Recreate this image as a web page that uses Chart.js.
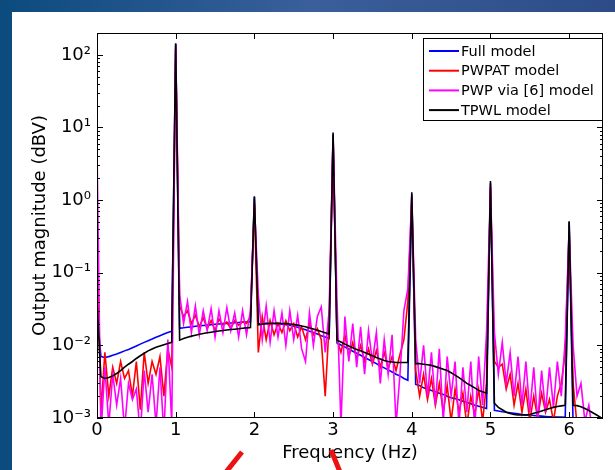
<!DOCTYPE html>
<html>
<head>
<meta charset="utf-8">
<script src="https://cdn.jsdelivr.net/npm/chart.js@4"></script>
<style>
  html, body { margin: 0; padding: 0; background: #1f5589; }
  #wrap { width: 615px; height: 470px; position: relative; }
</style>
</head>
<body>
<div id="wrap"><canvas id="freqChart" width="615" height="470"></canvas></div>
<script>
var freq = [
    0, 0.05, 0.1, 0.15, 0.2, 0.25, 0.3, 0.35, 0.4, 0.45, 0.5, 0.55, 0.6, 0.65, 0.7, 0.75, 0.8, 0.85, 0.9, 0.95,
    1, 1.05, 1.1, 1.15, 1.2, 1.25, 1.3, 1.35, 1.4, 1.45, 1.5, 1.55, 1.6, 1.65, 1.7, 1.75, 1.8, 1.85, 1.9, 1.95,
    2, 2.05, 2.1, 2.15, 2.2, 2.25, 2.3, 2.35, 2.4, 2.45, 2.5, 2.55, 2.6, 2.65, 2.7, 2.75, 2.8, 2.85, 2.9, 2.95,
    3, 3.05, 3.1, 3.15, 3.2, 3.25, 3.3, 3.35, 3.4, 3.45, 3.5, 3.55, 3.6, 3.65, 3.7, 3.75, 3.8, 3.85, 3.9, 3.95,
    4, 4.05, 4.1, 4.15, 4.2, 4.25, 4.3, 4.35, 4.4, 4.45, 4.5, 4.55, 4.6, 4.65, 4.7, 4.75, 4.8, 4.85, 4.9, 4.95,
    5, 5.05, 5.1, 5.15, 5.2, 5.25, 5.3, 5.35, 5.4, 5.45, 5.5, 5.55, 5.6, 5.65, 5.7, 5.75, 5.8, 5.85, 5.9, 5.95,
    6, 6.05, 6.1, 6.15, 6.2, 6.25, 6.3, 6.35, 6.4, 6.45
];

// output magnitude (dBV), one value per frequency above
var fullModel = [
    0.03,
    0.007, 0.0068, 0.007, 0.0073, 0.0076, 0.008, 0.0084, 0.0088, 0.0093, 0.0098, 0.0104, 0.011, 0.0116, 0.0122, 0.0129, 0.0136, 0.0143, 0.015, 0.0157,
    140,
    0.0172, 0.0175, 0.0178, 0.018, 0.0183, 0.0186, 0.0188, 0.019, 0.0193, 0.0195, 0.0197, 0.0199, 0.0201, 0.0203, 0.0205, 0.0207, 0.0209, 0.021, 0.0212,
    1.1,
    0.0198, 0.02, 0.0201, 0.0201, 0.02, 0.0199, 0.0196, 0.0193, 0.0189, 0.0184, 0.0178, 0.0171, 0.0164, 0.0157, 0.015, 0.0143, 0.0136, 0.013, 0.0124,
    8,
    0.0108, 0.0101, 0.0095, 0.0089, 0.0083, 0.0078, 0.0073, 0.0068, 0.0064, 0.006, 0.0056, 0.0052, 0.0049, 0.0046, 0.0043, 0.004, 0.0038, 0.0035, 0.0033,
    1.2,
    0.0029, 0.0028, 0.0026, 0.0025, 0.0024, 0.0023, 0.0022, 0.0021, 0.002, 0.0019, 0.00185, 0.00178, 0.0017, 0.00163, 0.00157, 0.0015, 0.00145, 0.0014, 0.00135,
    1.7,
    0.00128, 0.00125, 0.00122, 0.0012, 0.00118, 0.00116, 0.00114, 0.00112, 0.0011, 0.00109, 0.00108, 0.00107, 0.00106, 0.00105, 0.00104, 0.00104, 0.00103, 0.00103, 0.00102,
    0.5,
    0.0008, 0.0008, 0.0008, 0.0008, 0.0008, 0.0008, 0.0008, 0.0008, 0.0008
];

var pwpatModel = [
    0.3,
    0.0012, 0.008, 0.002, 0.005, 0.003, 0.006, 0.0035, 0.0045, 0.002, 0.006, 0.0013, 0.008, 0.003, 0.006, 0.004, 0.007, 0.002, 0.009, 0.005,
    120,
    0.035, 0.025, 0.03, 0.02, 0.026, 0.018, 0.024, 0.017, 0.022, 0.016, 0.023, 0.019, 0.021, 0.017, 0.022, 0.019, 0.021, 0.02, 0.025,
    0.9,
    0.008, 0.025, 0.012, 0.022, 0.014, 0.02, 0.015, 0.022, 0.016, 0.02, 0.013, 0.018, 0.012, 0.02, 0.014, 0.017, 0.012, 0.002, 0.02,
    7,
    0.012, 0.008, 0.014, 0.007, 0.011, 0.0065, 0.01, 0.006, 0.009, 0.0055, 0.0085, 0.005, 0.008, 0.0048, 0.007, 0.0045, 0.0075, 0.012, 0.04,
    1.0,
    0.0045, 0.002, 0.004, 0.0018, 0.0035, 0.0015, 0.003, 0.0012, 0.0028, 0.0009, 0.0025, 0.0012, 0.0022, 0.0008, 0.002, 0.0011, 0.0025, 0.0009, 0.003,
    1.5,
    0.006, 0.005, 0.0055, 0.0025, 0.004, 0.0015, 0.003, 0.0012, 0.0025, 0.0009, 0.002, 0.001, 0.0022, 0.0012, 0.0018, 0.0009, 0.002, 0.003, 0.008,
    0.35,
    0.003, 0.0008, 0.0005, 0.0005, 0.0005, 0.0005, 0.0005, 0.0005, 0.0005
];

var pwpModel = [
    5,
    0.0006, 0.005, 0.0008, 0.004, 0.0015, 0.0035, 0.0007, 0.003, 0.0018, 0.0025, 0.0006, 0.0045, 0.0012, 0.004, 0.0008, 0.005, 0.0006, 0.012, 0.0008,
    140,
    0.05, 0.02, 0.04, 0.015, 0.035, 0.014, 0.03, 0.016, 0.032, 0.013, 0.03, 0.015, 0.033, 0.016, 0.028, 0.013, 0.03, 0.014, 0.03,
    0.9,
    0.05, 0.012, 0.035, 0.011, 0.03, 0.013, 0.028, 0.01, 0.03, 0.012, 0.026, 0.009, 0.006, 0.028, 0.01, 0.025, 0.034, 0.008, 0.03,
    7.5,
    0.04, 0.0008, 0.025, 0.006, 0.02, 0.005, 0.018, 0.004, 0.016, 0.006, 0.015, 0.003, 0.012, 0.004, 0.014, 0.0008, 0.004, 0.03, 0.06,
    1.1,
    0.012, 0.003, 0.01, 0.002, 0.008, 0.0015, 0.009, 0.0009, 0.007, 0.002, 0.006, 0.0008, 0.005, 0.0012, 0.006, 0.0007, 0.007, 0.0015, 0.015,
    1.5,
    0.015, 0.004, 0.011, 0.003, 0.008, 0.002, 0.007, 0.0015, 0.006, 0.0012, 0.005, 0.0009, 0.0045, 0.0012, 0.005, 0.0014, 0.006, 0.002, 0.012,
    0.4,
    0.01, 0.002, 0.003, 0.0009, 0.0015, 0.0006, 0.0005, 0.0005, 0.0005
];

var tpwlModel = [
    0.04,
    0.0037, 0.0035, 0.0036, 0.0038, 0.0041, 0.0045, 0.005, 0.0055, 0.006, 0.0066, 0.0072, 0.0078, 0.0084, 0.0089, 0.0094, 0.0098, 0.0102, 0.0106, 0.011,
    145,
    0.0118, 0.0124, 0.0129, 0.0134, 0.0138, 0.0142, 0.0146, 0.0149, 0.0152, 0.0155, 0.0158, 0.016, 0.0163, 0.0165, 0.0167, 0.0169, 0.0172, 0.0174, 0.0176,
    1.13,
    0.0192, 0.0196, 0.0199, 0.02, 0.0201, 0.0201, 0.02, 0.0199, 0.0197, 0.0194, 0.019, 0.0185, 0.018, 0.0174, 0.0168, 0.0162, 0.0155, 0.0149, 0.0143,
    8.5,
    0.0118, 0.0111, 0.0104, 0.0098, 0.0093, 0.0088, 0.0084, 0.008, 0.0076, 0.0072, 0.0068, 0.0065, 0.0062, 0.006, 0.0059, 0.0058, 0.0058, 0.0058, 0.0058,
    1.28,
    0.0056, 0.0056, 0.0055, 0.0054, 0.0053, 0.0051, 0.0049, 0.0047, 0.0045, 0.0042, 0.0039, 0.0036, 0.0033, 0.003, 0.0028, 0.0026, 0.0024, 0.0023, 0.0022,
    1.83,
    0.0016, 0.0014, 0.0013, 0.0012, 0.00115, 0.00112, 0.0011, 0.0011, 0.0011, 0.00112, 0.00116, 0.0012, 0.00125, 0.0013, 0.00135, 0.0014, 0.00144, 0.00147, 0.0015,
    0.51,
    0.0015, 0.00148, 0.00143, 0.00135, 0.00127, 0.00118, 0.0011, 0.00102, 0.00095
];

var seriesNames = ['Full model', 'PWPAT model', 'PWP via [6] model', 'TPWL model'];
var seriesColors = ['#0000ff', '#ff0000', '#ff00ff', '#000000'];

var xTicks = [0, 1, 2, 3, 4, 5, 6];
var yTicks = [0.001, 0.01, 0.1, 1, 10, 100];
var yTickLabels = ['10\u207B\u00B3', '10\u207B\u00B2', '10\u207B\u00B9', '10\u2070', '10\u00B9', '10\u00B2'];

(function () {
    var FONT = "'DejaVu Sans', 'Liberation Sans', Arial, sans-serif";

    function toPoints(mag) {
        return mag.map(function (v, i) { return { x: freq[i], y: v }; });
    }

    var series = [fullModel, pwpatModel, pwpModel, tpwlModel];
    var datasets = series.map(function (mag, i) {
        return {
            label: seriesNames[i],
            data: toPoints(mag),
            borderColor: seriesColors[i],
            backgroundColor: seriesColors[i],
            borderWidth: 1.6,
            pointRadius: 0,
            tension: 0,
            order: 3 - i
        };
    });

    // slide background + the red pen strokes under the axis title
    var slidePlugin = {
        id: 'slide',
        beforeDraw: function (chart) {
            var ctx = chart.ctx;
            ctx.save();
            var g = ctx.createLinearGradient(0, 0, chart.width, 0);
            g.addColorStop(0, '#0b4b7d');
            g.addColorStop(0.5, '#3a5f9a');
            g.addColorStop(1, '#2d4c87');
            ctx.fillStyle = g;
            ctx.fillRect(0, 0, chart.width, chart.height);
            ctx.fillStyle = '#ffffff';
            ctx.fillRect(12, 12, chart.width - 12, chart.height - 12);
            ctx.restore();
        },
        afterDraw: function (chart) {
            var ctx = chart.ctx;
            ctx.save();
            ctx.strokeStyle = '#ee1111';
            ctx.lineWidth = 5;
            ctx.beginPath();
            ctx.moveTo(242, 452);
            ctx.lineTo(226, 472);
            ctx.moveTo(331, 450);
            ctx.lineTo(340, 472);
            ctx.stroke();
            ctx.restore();
        }
    };

    // matlab style box with inward ticks, plus the boxed legend
    var framePlugin = {
        id: 'frame',
        afterDatasetsDraw: function (chart) {
            var ctx = chart.ctx;
            var a = chart.chartArea;
            var xs = chart.scales.x;
            var ys = chart.scales.y;
            ctx.save();
            ctx.strokeStyle = '#000';
            ctx.lineWidth = 1;
            ctx.strokeRect(Math.round(a.left) + 0.5, Math.round(a.top) + 0.5,
                Math.round(a.right - a.left) - 1, Math.round(a.bottom - a.top) - 1);
            ctx.beginPath();
            xTicks.forEach(function (v) {
                var px = Math.round(xs.getPixelForValue(v)) + 0.5;
                ctx.moveTo(px, a.bottom);
                ctx.lineTo(px, a.bottom - 6);
                ctx.moveTo(px, a.top);
                ctx.lineTo(px, a.top + 6);
            });
            for (var n = -3; n <= 2; n++) {
                for (var k = 1; k <= 9; k++) {
                    var v = k * Math.pow(10, n);
                    if (v > ys.max) break;
                    var len = k === 1 ? 6 : 3;
                    var py = Math.round(ys.getPixelForValue(v)) + 0.5;
                    ctx.moveTo(a.left, py);
                    ctx.lineTo(a.left + len, py);
                    ctx.moveTo(a.right, py);
                    ctx.lineTo(a.right - len, py);
                }
            }
            ctx.stroke();
            ctx.restore();
        },
        afterDraw: function (chart) {
            var ctx = chart.ctx;
            var box = { left: 423, top: 38, right: 602, bottom: 120 };
            ctx.save();
            ctx.fillStyle = '#fff';
            ctx.fillRect(box.left, box.top, box.right - box.left, box.bottom - box.top);
            ctx.strokeStyle = '#000';
            ctx.lineWidth = 1;
            ctx.strokeRect(box.left + 0.5, box.top + 0.5, box.right - box.left, box.bottom - box.top);
            ctx.font = '14.5px ' + FONT;
            ctx.textBaseline = 'middle';
            ctx.textAlign = 'left';
            chart.data.datasets.forEach(function (ds, i) {
                var y = 51 + i * 19.7;
                ctx.strokeStyle = ds.borderColor;
                ctx.lineWidth = 2;
                ctx.beginPath();
                ctx.moveTo(429, y);
                ctx.lineTo(459, y);
                ctx.stroke();
                ctx.fillStyle = '#000';
                ctx.fillText(ds.label, 461, y + 1);
            });
            ctx.restore();
        }
    };

    new Chart(document.getElementById('freqChart').getContext('2d'), {
        type: 'line',
        data: { datasets: datasets },
        plugins: [slidePlugin, framePlugin],
        options: {
            responsive: false,
            animation: false,
            devicePixelRatio: 1,
            layout: { padding: { left: 0, top: 33, right: 12, bottom: 0 } },
            plugins: {
                legend: { display: false },
                tooltip: { enabled: false }
            },
            scales: {
                x: {
                    type: 'linear',
                    min: 0,
                    max: 6.43,
                    afterBuildTicks: function (s) {
                        s.ticks = xTicks.map(function (v) { return { value: v }; });
                    },
                    afterFit: function (s) { s.height = 52; },
                    grid: { display: false, drawTicks: false },
                    border: { display: false },
                    ticks: {
                        color: '#000',
                        padding: 2,
                        maxRotation: 0,
                        font: { family: FONT, size: 18 }
                    },
                    title: {
                        display: true,
                        text: 'Frequency (Hz)',
                        color: '#000',
                        font: { family: FONT, size: 18 },
                        padding: { top: 0, bottom: 6 }
                    }
                },
                y: {
                    type: 'logarithmic',
                    min: 0.001,
                    max: 200,
                    afterBuildTicks: function (s) {
                        s.ticks = yTicks.map(function (v) { return { value: v }; });
                    },
                    afterFit: function (s) { s.width = 97; },
                    grid: { display: false, drawTicks: false },
                    border: { display: false },
                    ticks: {
                        color: '#000',
                        padding: 6,
                        font: { family: FONT, size: 18 },
                        callback: function (v, i) { return yTickLabels[i]; }
                    },
                    title: {
                        display: true,
                        text: 'Output magnitude (dBV)',
                        color: '#000',
                        font: { family: FONT, size: 18 },
                        padding: { top: 30, bottom: 0 }
                    }
                }
            }
        }
    });
})();
</script>
</body>
</html>
